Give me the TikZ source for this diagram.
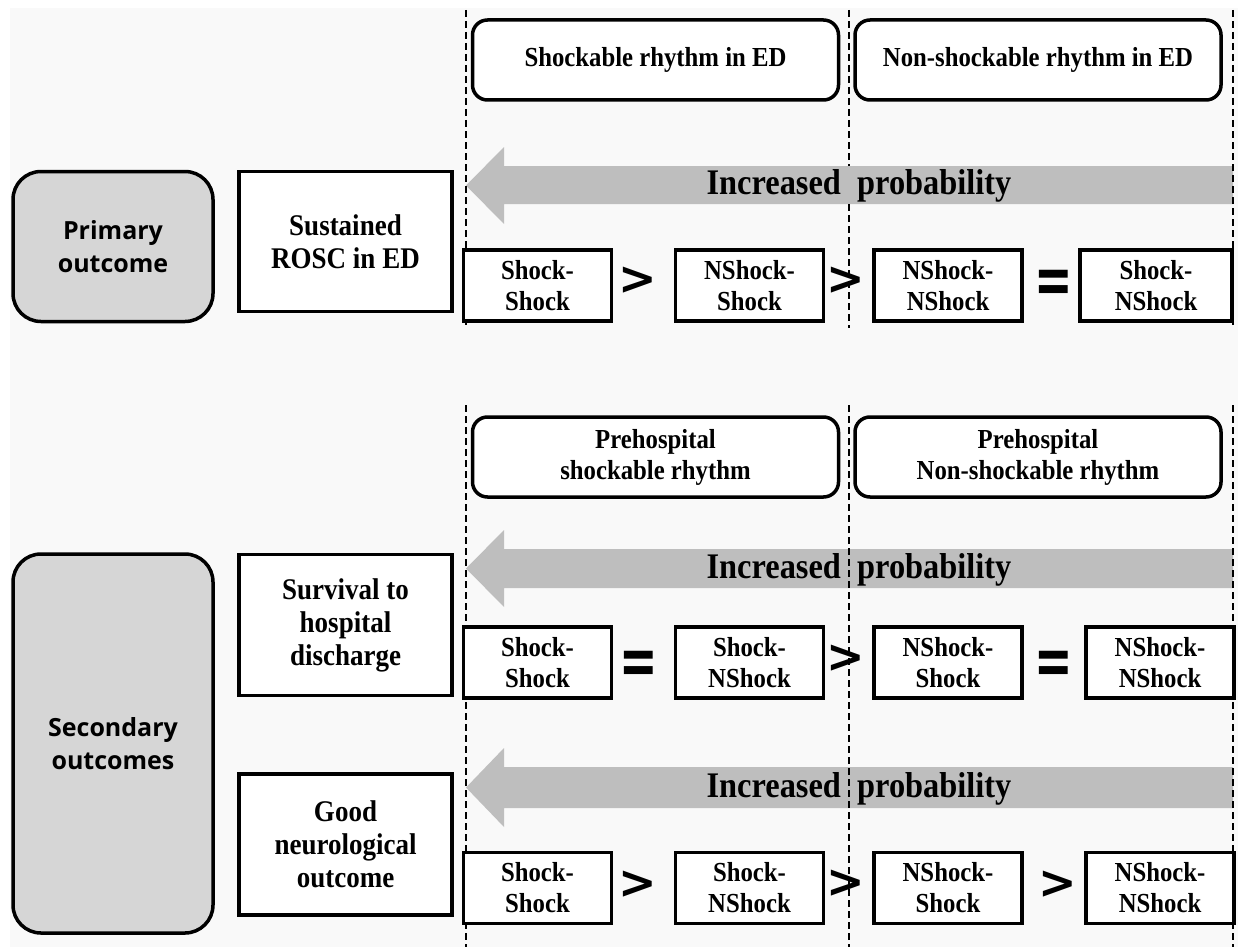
\documentclass[tikz,border=0pt]{standalone}
\usepackage{fontspec}
\newfontfamily\tnr[FakeStretch=0.9]{Liberation Serif}
\newfontfamily\sanf{Open Sans}
\newfontfamily\symf{DejaVu Sans}
\definecolor{bgc}{HTML}{F9F9F9}
\definecolor{boxgray}{HTML}{D6D6D6}
\definecolor{arrowgray}{HTML}{BEBEBE}
\tikzset{
  hdrbox/.style={draw, line width=3.5pt, rounded corners=15pt, fill=white, inner sep=0pt, align=center,
    minimum width=366pt, minimum height=80pt, font=\tnr\bfseries\fontsize{27.5}{31}\selectfont},
  outbox/.style={draw, line width=3.5pt, rounded corners=28pt, fill=boxgray, inner sep=0pt, align=center,
    minimum width=200pt, font=\sanf\bfseries\fontsize{25}{33}\selectfont},
  measbox/.style={draw, line width=3.5pt, fill=white, inner sep=0pt, align=center,
    minimum width=213pt, font=\tnr\bfseries\fontsize{30}{33}\selectfont},
  grpbox/.style={draw, line width=3.5pt, fill=white, inner sep=0pt, align=center,
    minimum width=148pt, minimum height=71pt, font=\tnr\bfseries\fontsize{27.5}{31}\selectfont},
  relsym/.style={inner sep=0pt, font=\symf\bfseries\fontsize{46}{46}\selectfont},
  problabel/.style={inner sep=0pt, font=\tnr\bfseries\fontsize{36}{36}\selectfont},
  divline/.style={draw, line width=2pt, dash pattern=on 7pt off 4pt},
  probarrow/.style={fill=arrowgray, draw=none}
}
\begin{document}
\begin{tikzpicture}[x=1pt,y=-1pt]
\useasboundingbox (0,0) rectangle (1238,947);
\fill[white] (0,0) rectangle (1238,947);
\fill[bgc] (10,8) rectangle (1238,947);

% ---------- Panel 1 ----------
\path[probarrow] (1233,166) -- (504,166) -- (504,147) -- (466,185.5) -- (504,224) -- (504,204) -- (1233,204) -- cycle;
\node[problabel] (p1) at (859,186) {Increased\ \ probability};

\coordinate (d1t) at (466,10);  \coordinate (d1b) at (466,328);
\coordinate (d2t) at (849,10);  \coordinate (d2b) at (849,166);
\coordinate (d2c) at (849,204); \coordinate (d2d) at (849,328);
\coordinate (d3t) at (1233,10); \coordinate (d3b) at (1233,328);
\draw[divline] (d1t) -- (d1b);
\draw[divline] (d2t) -- (d2b);
\draw[divline] (d2c) -- (d2d);
\draw[divline] (d3t) -- (d3b);

\node[hdrbox] (h1) at (655.5,60) {Shockable rhythm in ED};
\node[hdrbox] (h2) at (1038,60) {Non-shockable rhythm in ED};

\node[outbox, minimum height=150pt] (prim) at (113,246.5) {Primary\\outcome};
\node[measbox, minimum height=140pt] (rosc) at (345.5,241.5) {Sustained\\ROSC in ED};

\node[grpbox] (b11) at (537.5,285.5) {Shock-\\Shock};
\node[grpbox] (b12) at (749.5,285.5) {NShock-\\Shock};
\node[grpbox] (b13) at (948,285.5) {NShock-\\NShock};
\node[grpbox, minimum width=152pt] (b14) at (1156,285.5) {Shock-\\NShock};
\node[relsym] (s11) at (638,281) {>};
\node[relsym] (s12) at (845.5,281) {>};
\node[relsym] (s13) at (1054,287) {\scalebox{1}[1.5]{=}};

% ---------- Panel 2 ----------
\path[probarrow] (1233,549) -- (504,549) -- (504,530) -- (466,568.5) -- (504,607) -- (504,588) -- (1233,588) -- cycle;
\node[problabel] (p2) at (859,570) {Increased\ \ probability};
\path[probarrow] (1233,767) -- (504,767) -- (504,748) -- (466,787.5) -- (504,827) -- (504,808) -- (1233,808) -- cycle;
\node[problabel] (p3) at (859,789) {Increased\ \ probability};

\coordinate (e1t) at (466,405);  \coordinate (e1b) at (466,947);
\coordinate (e2t) at (849,405);  \coordinate (e2b) at (849,947);
\coordinate (e3t) at (1233,405); \coordinate (e3b) at (1233,947);
\draw[divline] (e1t) -- (e1b);
\draw[divline] (e2t) -- (e2b);
\draw[divline] (e3t) -- (e3b);

\node[hdrbox] (h3) at (655.5,457) {Prehospital\\shockable rhythm};
\node[hdrbox] (h4) at (1038,457) {Prehospital\\Non-shockable rhythm};

\node[outbox, minimum height=379pt] (sec) at (113,743.5) {Secondary\\outcomes};
\node[measbox, minimum height=141pt] (surv) at (345.5,625) {Survival to\\hospital\\discharge};
\node[measbox, minimum height=141pt] (neuro) at (345.5,844.5) {Good\\neurological\\outcome};

\node[grpbox] (b21) at (537.5,662.5) {Shock-\\Shock};
\node[grpbox] (b22) at (749.5,662.5) {Shock-\\NShock};
\node[grpbox] (b23) at (948,662.5) {NShock-\\Shock};
\node[grpbox] (b24) at (1160,662.5) {NShock-\\NShock};
\node[relsym] (s21) at (639,668) {\scalebox{1}[1.5]{=}};
\node[relsym] (s22) at (845.5,659) {>};
\node[relsym] (s23) at (1054,668) {\scalebox{1}[1.5]{=}};

\node[grpbox] (b31) at (537.5,888) {Shock-\\Shock};
\node[grpbox] (b32) at (749.5,888) {Shock-\\NShock};
\node[grpbox] (b33) at (948,888) {NShock-\\Shock};
\node[grpbox] (b34) at (1160,888) {NShock-\\NShock};
\node[relsym] (s31) at (638,885) {>};
\node[relsym] (s32) at (845.5,884) {>};
\node[relsym] (s33) at (1057.5,885) {>};
\end{tikzpicture}
\end{document}
